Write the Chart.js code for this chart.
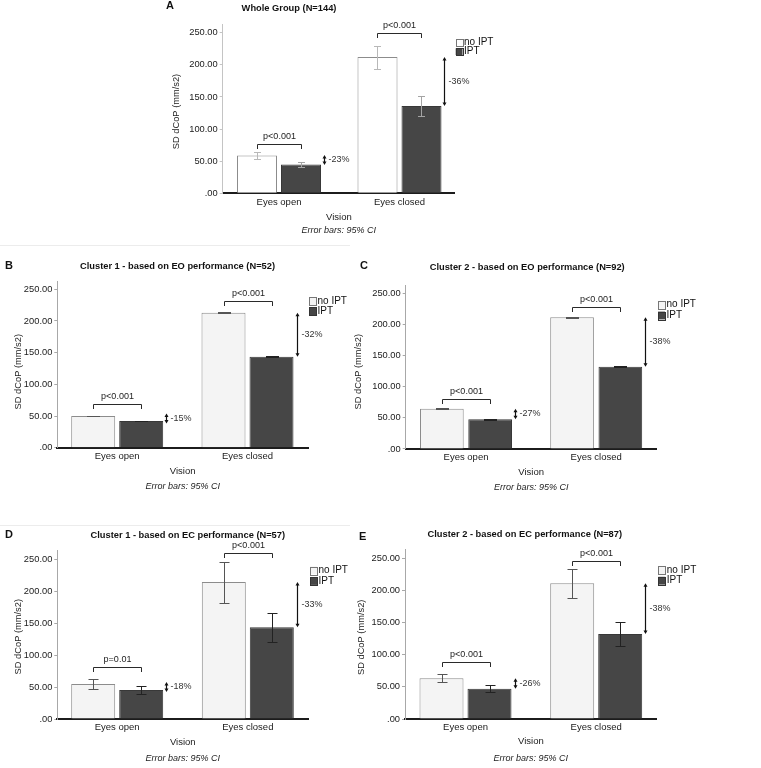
<!DOCTYPE html>
<html><head><meta charset="utf-8">
<script src="https://cdn.jsdelivr.net/npm/chart.js@4"></script>
<style>
html,body{margin:0;padding:0;background:#fff;width:761px;height:768px;overflow:hidden}
canvas{position:absolute;left:0;top:0}
</style></head><body>
<canvas id="cA" width="761" height="768"></canvas>
<canvas id="cB" width="761" height="768"></canvas>
<canvas id="cC" width="761" height="768"></canvas>
<canvas id="cD" width="761" height="768"></canvas>
<canvas id="cE" width="761" height="768"></canvas>
<script>
// ---------- data ----------
const categories = ['Eyes open', 'Eyes closed'];
const seriesNames = ['no IPT', 'IPT'];
const yTickValues = [0, 50, 100, 150, 200, 250];
const yAxisTitle = 'SD dCoP (mm/s2)';
const xAxisTitle = 'Vision';
const errorNote = 'Error bars: 95% CI';

// A - Whole Group (N=144)
const A_noIPT = [59, 212];
const A_IPT = [45, 136];
const A_noIPT_ciLow = [53, 193];
const A_noIPT_ciHigh = [64, 230];
const A_IPT_ciLow = [41, 120];
const A_IPT_ciHigh = [49, 151];
const A_pValues = ['p<0.001', 'p<0.001'];
const A_changes = ['-23%', '-36%'];
const A_bracketLevel = [77, 250];

// B - Cluster 1 - EO (N=52)
const B_noIPT = [50, 213];
const B_IPT = [42, 143.6];
const B_noIPT_ciLow = [49.6, 212.4];
const B_noIPT_ciHigh = [50.4, 213.6];
const B_IPT_ciLow = [41.6, 143.2];
const B_IPT_ciHigh = [42.4, 144];
const B_pValues = ['p<0.001', 'p<0.001'];
const B_changes = ['-15%', '-32%'];
const B_bracketLevel = [69, 231.5];

// C - Cluster 2 - EO (N=92)
const C_noIPT = [64.7, 211.5];
const C_IPT = [47.7, 132.2];
const C_noIPT_ciLow = [64.3, 211];
const C_noIPT_ciHigh = [65.1, 212];
const C_IPT_ciLow = [47.3, 131.8];
const C_IPT_ciHigh = [48.1, 132.6];
const C_pValues = ['p<0.001', 'p<0.001'];
const C_changes = ['-27%', '-38%'];
const C_bracketLevel = [80.3, 228.5];

// D - Cluster 1 - EC (N=57)
const D_noIPT = [54.7, 214];
const D_IPT = [45.3, 143.2];
const D_noIPT_ciLow = [47.5, 181.7];
const D_noIPT_ciHigh = [62, 245.8];
const D_IPT_ciLow = [38.6, 121];
const D_IPT_ciHigh = [52, 166];
const D_pValues = ['p=0.01', 'p<0.001'];
const D_changes = ['-18%', '-33%'];
const D_bracketLevel = [81.7, 259.8];

// E - Cluster 2 - EC (N=87)
const E_noIPT = [63.3, 211];
const E_IPT = [47.2, 132.3];
const E_noIPT_ciLow = [57.1, 187.8];
const E_noIPT_ciHigh = [69.5, 233.4];
const E_IPT_ciLow = [42, 113];
const E_IPT_ciHigh = [52.4, 151];
const E_pValues = ['p<0.001', 'p<0.001'];
const E_changes = ['-26%', '-38%'];
const E_bracketLevel = [89.1, 245.8];

const panelTitles = {
  A: 'Whole Group (N=144)',
  B: 'Cluster 1 - based on EO performance (N=52)',
  C: 'Cluster 2 - based on EO performance (N=92)',
  D: 'Cluster 1 - based on EC performance (N=57)',
  E: 'Cluster 2 - based on EC performance (N=87)'
};

const PANEL_DATA = {
  A: {m0: A_noIPT, m1: A_IPT, lo0: A_noIPT_ciLow, hi0: A_noIPT_ciHigh, lo1: A_IPT_ciLow, hi1: A_IPT_ciHigh, p: A_pValues, ch: A_changes, br: A_bracketLevel},
  B: {m0: B_noIPT, m1: B_IPT, lo0: B_noIPT_ciLow, hi0: B_noIPT_ciHigh, lo1: B_IPT_ciLow, hi1: B_IPT_ciHigh, p: B_pValues, ch: B_changes, br: B_bracketLevel},
  C: {m0: C_noIPT, m1: C_IPT, lo0: C_noIPT_ciLow, hi0: C_noIPT_ciHigh, lo1: C_IPT_ciLow, hi1: C_IPT_ciHigh, p: C_pValues, ch: C_changes, br: C_bracketLevel},
  D: {m0: D_noIPT, m1: D_IPT, lo0: D_noIPT_ciLow, hi0: D_noIPT_ciHigh, lo1: D_IPT_ciLow, hi1: D_IPT_ciHigh, p: D_pValues, ch: D_changes, br: D_bracketLevel},
  E: {m0: E_noIPT, m1: E_IPT, lo0: E_noIPT_ciLow, hi0: E_noIPT_ciHigh, lo1: E_IPT_ciLow, hi1: E_IPT_ciHigh, p: E_pValues, ch: E_changes, br: E_bracketLevel}
};

// ---------- layout / style ----------
const FONT = "'Liberation Sans', Arial, Helvetica, sans-serif";
const Y_MAX = 263;
const MIN_ARROW = 10;
const LAYOUT = {
  A: {canvas: 'cA', left: 222.7, right: 455, bottom: 193.3, ppu: 0.6424, c0: 279, c1: 399.5, bw: 40, gap: 4,
      title: [289, 8], letter: [166, 5.5], yTitle: [176.3, 111.5], visionY: 217, noteY: 230,
      legend: [455.7, 42.5, 9.2], box: [6.8, 6.6], fill0: '#ffffff', eb: ['#b8b8b8', '#a4a4a4'], cap: 7, axisColor: '#c4c4c4', sep: null},
  B: {canvas: 'cB', left: 57.3, right: 308, bottom: 447.7, ppu: 0.6336, c0: 117.2, c1: 247.5, bw: 44, gap: 4,
      title: [177.5, 266], letter: [5, 265.5], yTitle: [18.8, 371.7], visionY: 471.7, noteY: 486.7,
      legend: [309, 301.2, 10], box: [7, 7.6], fill0: '#f4f4f4', eb: ['#555555', '#222222'], cap: 13, axisColor: '#a8a8a8', sep: 245},
  C: {canvas: 'cC', left: 405.7, right: 656.7, bottom: 449, ppu: 0.6228, c0: 466, c1: 596.2, bw: 43.7, gap: 4.6,
      title: [527.2, 267.3], letter: [360, 265.5], yTitle: [358, 371.7], visionY: 472.3, noteY: 487.3,
      legend: [658, 304.7, 10.8], box: [7, 7.8], fill0: '#f4f4f4', eb: ['#555555', '#222222'], cap: 13, axisColor: '#a8a8a8', sep: null},
  D: {canvas: 'cD', left: 57.3, right: 308.3, bottom: 719, ppu: 0.64, c0: 117.2, c1: 247.8, bw: 44, gap: 4,
      title: [187.8, 535], letter: [5, 535], yTitle: [18.3, 636.7], visionY: 742.3, noteY: 758.3,
      legend: [310, 570.3, 10.8], box: [7, 7.6], fill0: '#f4f4f4', eb: ['#555555', '#222222'], cap: 10, axisColor: '#a8a8a8', sep: 525},
  E: {canvas: 'cE', left: 405, right: 656.7, bottom: 719, ppu: 0.6428, c0: 465.5, c1: 596.2, bw: 44, gap: 4,
      title: [524.8, 534.5], letter: [359, 537], yTitle: [361, 637.3], visionY: 741.7, noteY: 758.3,
      legend: [658.3, 570, 10.7], box: [7, 7.8], fill0: '#f4f4f4', eb: ['#555555', '#222222'], cap: 10, axisColor: '#a8a8a8', sep: null}
};
const IPT_FILL = '#464646';
const IPT_BORDER = '#383838';
const NOIPT_BORDER = '#8c8c8c';

function px(v) { return Math.round(v) + 0.5; }

function makeDecor(key, P, D) {
  return {
    id: 'decor' + key,
    afterDatasetsDraw(chart) {
      const ctx = chart.ctx, ys = chart.scales.y;
      const metas = [chart.getDatasetMeta(0), chart.getDatasetMeta(1)];
      const los = [D.lo0, D.lo1], his = [D.hi0, D.hi1];
      ctx.save();
      metas.forEach((m, s) => {
        m.data.forEach((el, j) => {
          const x = px(el.x);
          const yl = px(ys.getPixelForValue(los[s][j]));
          const yh = px(ys.getPixelForValue(his[s][j]));
          ctx.strokeStyle = P.eb[s];
          ctx.lineWidth = 1;
          ctx.beginPath();
          ctx.moveTo(x, yl); ctx.lineTo(x, yh);
          ctx.moveTo(x - P.cap / 2, yl); ctx.lineTo(x + P.cap / 2, yl);
          ctx.moveTo(x - P.cap / 2, yh); ctx.lineTo(x + P.cap / 2, yh);
          ctx.stroke();
        });
      });
      ctx.restore();
    },
    afterDraw(chart) {
      const ctx = chart.ctx, ys = chart.scales.y, ca = chart.chartArea;
      const m0 = chart.getDatasetMeta(0), m1 = chart.getDatasetMeta(1);
      ctx.save();
      // separator
      if (P.sep !== null) {
        ctx.strokeStyle = '#ececec'; ctx.lineWidth = 1;
        ctx.beginPath(); ctx.moveTo(0, px(P.sep)); ctx.lineTo(350, px(P.sep)); ctx.stroke();
      }
      // brackets + p-values
      for (let j = 0; j < categories.length; j++) {
        const x0 = px(m0.data[j].x), x1 = px(m1.data[j].x);
        const y = px(ys.getPixelForValue(D.br[j]));
        ctx.strokeStyle = '#2a2a2a'; ctx.lineWidth = 1;
        ctx.beginPath();
        ctx.moveTo(x0, y + 4.5); ctx.lineTo(x0, y); ctx.lineTo(x1, y); ctx.lineTo(x1, y + 4.5);
        ctx.stroke();
        ctx.fillStyle = '#222';
        ctx.font = '9px ' + FONT;
        ctx.textAlign = 'center'; ctx.textBaseline = 'middle';
        ctx.fillText(D.p[j], (x0 + x1) / 2, y - 7.5);
        // double-headed arrow between the two means
        const el = m1.data[j];
        const ax = px(el.x + el.width / 2 + 3);
        let ya = ys.getPixelForValue(D.m0[j]);
        let yb = ys.getPixelForValue(D.m1[j]);
        const mid = (ya + yb) / 2;
        if (yb - ya < MIN_ARROW) { ya = mid - MIN_ARROW / 2; yb = mid + MIN_ARROW / 2; }
        ctx.strokeStyle = '#111'; ctx.fillStyle = '#111'; ctx.lineWidth = 1.2;
        ctx.beginPath(); ctx.moveTo(ax, ya + 2); ctx.lineTo(ax, yb - 2); ctx.stroke();
        ctx.beginPath(); ctx.moveTo(ax, ya); ctx.lineTo(ax - 2, ya + 3.5); ctx.lineTo(ax + 2, ya + 3.5); ctx.closePath(); ctx.fill();
        ctx.beginPath(); ctx.moveTo(ax, yb); ctx.lineTo(ax - 2, yb - 3.5); ctx.lineTo(ax + 2, yb - 3.5); ctx.closePath(); ctx.fill();
        ctx.fillStyle = '#333';
        ctx.font = '9px ' + FONT;
        ctx.textAlign = 'left'; ctx.textBaseline = 'middle';
        ctx.fillText(D.ch[j], ax + 4, mid);
      }
      // title
      ctx.fillStyle = '#111';
      ctx.font = 'bold 9.3px ' + FONT;
      ctx.textAlign = 'center'; ctx.textBaseline = 'middle';
      ctx.fillText(panelTitles[key], P.title[0], P.title[1]);
      // letter
      ctx.font = 'bold 11px ' + FONT;
      ctx.textAlign = 'left';
      ctx.fillText(key, P.letter[0], P.letter[1]);
      // y title
      ctx.save();
      ctx.translate(P.yTitle[0], P.yTitle[1]);
      ctx.rotate(-Math.PI / 2);
      ctx.font = '9.3px ' + FONT; ctx.fillStyle = '#222';
      ctx.textAlign = 'center'; ctx.textBaseline = 'middle';
      ctx.fillText(yAxisTitle, 0, 0);
      ctx.restore();
      // legend
      const fills = [P.fill0, IPT_FILL], borders = ['#777', '#333'];
      seriesNames.forEach((n, s) => {
        const cy = P.legend[1] + s * P.legend[2];
        const bx = P.legend[0];
        ctx.fillStyle = fills[s];
        ctx.fillRect(bx, cy - P.box[1] / 2, P.box[0], P.box[1]);
        ctx.strokeStyle = borders[s]; ctx.lineWidth = 1;
        ctx.strokeRect(Math.round(bx) + 0.5, Math.round(cy - P.box[1] / 2) + 0.5, Math.round(P.box[0]), Math.round(P.box[1]));
        ctx.fillStyle = '#111';
        ctx.font = '10px ' + FONT;
        ctx.textAlign = 'left'; ctx.textBaseline = 'middle';
        ctx.fillText(n, bx + P.box[0] + 1.5, cy);
      });
      // error-bar note
      ctx.fillStyle = '#222';
      ctx.font = 'italic 9px ' + FONT;
      ctx.textAlign = 'center'; ctx.textBaseline = 'middle';
      ctx.fillText(errorNote, (ca.left + ca.right) / 2, P.noteY);
      ctx.restore();
    }
  };
}

function buildPanel(key) {
  const P = LAYOUT[key], D = PANEL_DATA[key];
  const top = P.bottom - Y_MAX * P.ppu;
  const spacing = P.c1 - P.c0;
  const xMin = -(P.c0 - P.left) / spacing;
  const xMax = 1 + (P.right - P.c1) / spacing;
  const slot = P.bw + P.gap;
  const catPct = 2 * slot / spacing;
  const barPct = P.bw / slot;
  const yW = 40;
  const lh = 9.5 * 1.2;
  const xH = P.visionY + lh / 2 - P.bottom;
  const cfg = {
    type: 'bar',
    data: {
      datasets: [
        {label: seriesNames[0], data: D.m0.map((v, i) => ({x: i, y: v})), backgroundColor: P.fill0, borderColor: NOIPT_BORDER, borderWidth: 1, categoryPercentage: catPct, barPercentage: barPct},
        {label: seriesNames[1], data: D.m1.map((v, i) => ({x: i, y: v})), backgroundColor: IPT_FILL, borderColor: IPT_BORDER, borderWidth: 1, categoryPercentage: catPct, barPercentage: barPct}
      ]
    },
    options: {
      responsive: false, animation: false, devicePixelRatio: 1,
      layout: {padding: {left: P.left - yW, right: 761 - P.right, top: top, bottom: 768 - P.bottom - xH}},
      plugins: {legend: {display: false}, title: {display: false}, tooltip: {enabled: false}},
      events: [],
      scales: {
        x: {
          type: 'linear', min: xMin, max: xMax, offset: false,
          afterBuildTicks: s => { s.ticks = categories.map((c, i) => ({value: i})); },
          afterFit: s => { s.height = xH; },
          grid: {display: false, drawTicks: false},
          border: {display: true, color: '#1c1c1c', width: 2},
          ticks: {callback: v => categories[v], color: '#1a1a1a', font: {family: FONT, size: 9.5}, padding: 3, maxRotation: 0, autoSkip: false},
          title: {display: true, text: xAxisTitle, color: '#1a1a1a', font: {family: FONT, size: 9.5, lineHeight: 1.2}, padding: 0}
        },
        y: {
          min: 0, max: Y_MAX,
          afterBuildTicks: s => { s.ticks = yTickValues.map(v => ({value: v})); },
          afterFit: s => { s.width = yW; },
          grid: {display: true, drawOnChartArea: false, drawTicks: true, tickLength: 3, color: P.axisColor, tickColor: P.axisColor},
          border: {display: true, color: P.axisColor, width: 1},
          ticks: {callback: v => (v === 0 ? '.00' : v.toFixed(2)), color: '#1a1a1a', font: {family: FONT, size: 9.3}, padding: 2}
        }
      }
    },
    plugins: [makeDecor(key, P, D)]
  };
  return new Chart(document.getElementById(P.canvas), cfg);
}

['A', 'B', 'C', 'D', 'E'].forEach(buildPanel);
</script>
</body></html>
